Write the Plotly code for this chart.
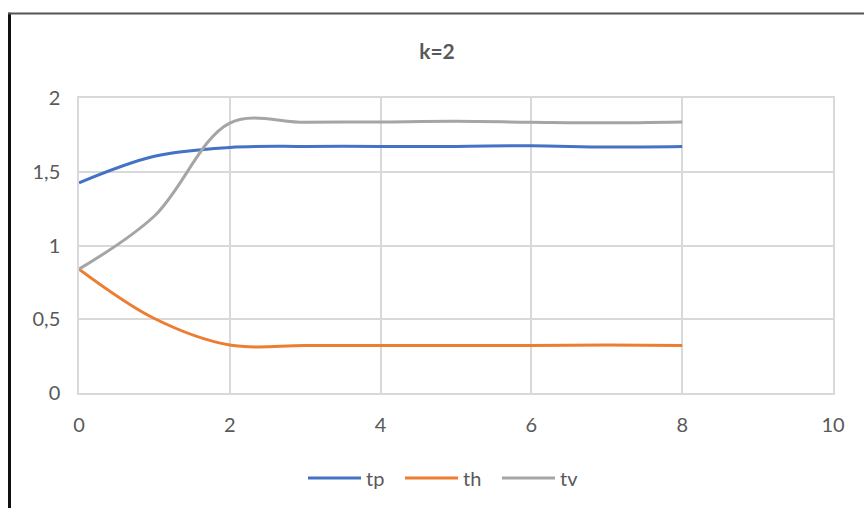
import plotly.graph_objects as go

# Step index and the three measured series
x_vals = [0, 1, 2, 3, 4, 5, 6, 7, 8]
tp = [1.425, 1.605, 1.665, 1.672, 1.672, 1.672, 1.676, 1.668, 1.672]
th = [0.84, 0.505, 0.325, 0.322, 0.322, 0.322, 0.322, 0.325, 0.322]
tv = [0.84, 1.20, 1.83, 1.835, 1.838, 1.842, 1.836, 1.832, 1.838]

series_names = ["tp", "th", "tv"]
series_colors = ["#4472C4", "#ED7D31", "#A5A5A5"]

# plot-area geometry in pixels (864 x 508 page)
W, H = 864, 508
L, R, T, B = 79, 833, 98, 394


def px_x(p):
    return (p - L) / (R - L)


def px_y(p):
    return (B - p) / (B - T)


FONT = "Lato, Calibri, 'Open Sans', sans-serif"
TXT = "#595959"
GRID = "#D9D9D9"

fig = go.Figure()
for name, ys, col in zip(series_names, [tp, th, tv], series_colors):
    fig.add_trace(go.Scatter(
        x=x_vals, y=ys, name=name, mode="lines",
        line=dict(color=col, width=3, shape="spline", smoothing=1.0),
    ))

fig.update_layout(
    width=W, height=H,
    margin=dict(l=L, r=W - R, t=T, b=H - B),
    paper_bgcolor="white", plot_bgcolor="white",
    separators=", ",
    font=dict(family=FONT, color=TXT, size=20),
    title=dict(text="<b>k=2</b>", x=437 / W, y=1 - 52 / H, xref="container",
               yref="container", xanchor="center", yanchor="middle",
               font=dict(family=FONT, size=21, color=TXT)),
    showlegend=True,
    legend=dict(orientation="h", x=px_x(303), y=px_y(478), xanchor="left",
                yanchor="middle", itemwidth=53, entrywidth=29,
                entrywidthmode="pixels", font=dict(size=20, color=TXT),
                bgcolor="rgba(0,0,0,0)", tracegroupgap=0),
    xaxis=dict(range=[0, 10], dtick=2, tick0=0, showgrid=True, gridcolor=GRID,
               gridwidth=1.5, showline=True, mirror=True, linecolor=GRID,
               linewidth=1.5, zeroline=False, ticks="", ticklabelstandoff=13,
               tickfont=dict(size=20, color=TXT)),
    yaxis=dict(range=[0, 2], dtick=0.5, tick0=0, showgrid=True, gridcolor=GRID,
               gridwidth=1.5, showline=True, mirror=True, linecolor=GRID,
               linewidth=1.5, zeroline=False, ticks="", ticklabelstandoff=13,
               tickfont=dict(size=20, color=TXT)),
    shapes=[
        # chart frame: left and top edges
        dict(type="line", xref="paper", yref="paper",
             x0=px_x(9.5), x1=px_x(9.5), y0=px_y(12.5), y1=px_y(H + 5),
             line=dict(color="#111111", width=3)),
        dict(type="line", xref="paper", yref="paper",
             x0=px_x(8), x1=px_x(W + 5), y0=px_y(13.3), y1=px_y(13.3),
             line=dict(color="#555555", width=2)),
    ],
)

fig.write_html("out.html")
